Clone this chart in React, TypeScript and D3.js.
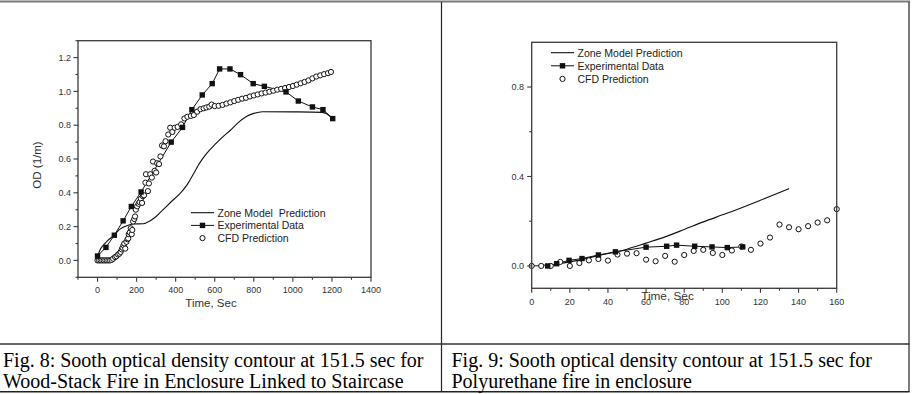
import React from "react";
import * as d3 from "d3";

// ---- Fig. 8 data (wood-stack fire, time in s, OD in 1/m) ----
const woodZone: [number, number][] = [
  [0, 0.02], [12, 0.06], [30, 0.09], [50, 0.115], [85, 0.15], [115, 0.185], [150, 0.205],
  [182, 0.215], [234, 0.217], [270, 0.235], [300, 0.26], [340, 0.305], [380, 0.35],
  [422, 0.395], [460, 0.45], [490, 0.51], [525, 0.58], [560, 0.635], [600, 0.685],
  [640, 0.73], [680, 0.77], [720, 0.815], [760, 0.85], [800, 0.87], [845, 0.88],
  [1000, 0.879], [1150, 0.876], [1175, 0.866], [1204, 0.839],
];

const woodExp: [number, number][] = [
  [0, 0.026], [43, 0.077], [86, 0.149], [131, 0.234], [173, 0.319], [223, 0.405],
  [377, 0.7], [435, 0.787], [483, 0.892], [536, 0.979], [587, 1.046], [625, 1.133],
  [678, 1.133], [732, 1.099], [797, 1.046], [854, 1.03], [965, 0.997], [1028, 0.943],
  [1100, 0.908], [1154, 0.892], [1204, 0.839],
];

const woodCfd: [number, number][] = [
  [0, 0], [8, 0], [16, 0], [24, 0], [32, 0], [40, 0], [48, 0], [56, 0], [64, 0], [72, 0.003],
  [80, 0.01], [90, 0.02], [97, 0.025], [105, 0.035], [112, 0.04], [118, 0.05], [124, 0.065],
  [128, 0.075], [133, 0.09], [137, 0.1], [142, 0.07], [148, 0.11], [153, 0.125], [157, 0.13],
  [160, 0.155], [165, 0.165], [170, 0.19], [175, 0.155], [178, 0.18], [182, 0.23],
  [188, 0.245], [192, 0.26], [196, 0.3], [203, 0.32], [210, 0.335], [215, 0.345],
  [222, 0.365], [228, 0.34], [232, 0.38], [238, 0.385], [245, 0.46], [248, 0.51],
  [258, 0.41], [263, 0.455], [270, 0.51], [278, 0.49], [284, 0.585], [292, 0.53],
  [300, 0.52], [305, 0.575], [315, 0.57], [322, 0.615], [330, 0.68], [340, 0.675],
  [348, 0.705], [362, 0.745], [372, 0.785], [383, 0.76], [395, 0.785], [410, 0.79],
  [428, 0.805], [445, 0.84], [460, 0.85], [478, 0.855], [493, 0.86], [510, 0.88],
  [527, 0.895], [543, 0.9], [557, 0.905], [572, 0.91], [584, 0.922],
  [600, 0.913], [620, 0.915], [640, 0.92], [660, 0.928], [680, 0.935], [700, 0.943],
  [720, 0.95], [740, 0.957], [760, 0.962], [780, 0.97], [800, 0.976], [820, 0.982],
  [840, 0.988], [860, 0.993], [880, 0.998], [900, 1.004], [920, 1.01], [940, 1.015],
  [960, 1.02], [980, 1.026], [1000, 1.032], [1020, 1.04], [1040, 1.048], [1060, 1.056],
  [1080, 1.065], [1100, 1.077], [1120, 1.088], [1140, 1.095], [1160, 1.102],
  [1180, 1.108], [1195, 1.115],
];

// ---- Fig. 9 data (polyurethane fire) ----
const pzZone: [number, number][] = [
  [0, 0], [10, 0.005], [20, 0.018], [35, 0.046], [50, 0.075], [60, 0.102], [70, 0.13],
  [80, 0.163], [90, 0.197], [102, 0.234], [120, 0.294], [135, 0.346],
];

const pzExp: [number, number][] = [
  [8.4, 0], [13.1, 0.01], [19.6, 0.025], [26.4, 0.033], [35, 0.049], [43.9, 0.063],
  [60, 0.084], [70.8, 0.088], [76, 0.093], [85.5, 0.088], [94.6, 0.085], [102.6, 0.082],
  [110.7, 0.085],
];

const pzCfd: [number, number][] = [
  [0, 0], [5, 0], [10, 0], [15, 0.018], [20, 0], [25, 0.013], [30, 0.025], [35, 0.031],
  [40, 0.024], [45, 0.051], [50, 0.055], [55, 0.057], [60, 0.028], [65, 0.021],
  [70, 0.045], [75, 0.019], [80, 0.049], [85, 0.067], [90, 0.072], [95, 0.058],
  [100, 0.049], [105, 0.069], [110, 0.087], [115, 0.072], [120, 0.1], [125, 0.127],
  [130, 0.185], [135, 0.173], [140, 0.164], [145, 0.178], [150, 0.194], [155, 0.204],
  [160, 0.254],
];

// ---- Axis ticks ----
const woodXMajor = [0, 200, 400, 600, 800, 1000, 1200, 1400];
const woodXMinor = [-100, 100, 300, 500, 700, 900, 1100, 1300];
const woodYMajor = [0, 0.2, 0.4, 0.6, 0.8, 1.0, 1.2];
const woodYMinor = [-0.1, 0.1, 0.3, 0.5, 0.7, 0.9, 1.1, 1.3];
const pzXMajor = [0, 20, 40, 60, 80, 100, 120, 140, 160];
const pzXMinor = [10, 30, 50, 70, 90, 110, 130, 150];
const pzYMajor = [0, 0.4, 0.8];
const pzYMinor = [0.2, 0.6];

const legendLabels = ["Zone Model  Prediction", "Experimental Data", "CFD Prediction"];
const legendLabelsR = ["Zone Model Prediction", "Experimental Data", "CFD Prediction"];

const captionLeft = [
  "Fig. 8: Sooth optical density contour at 151.5 sec for",
  "Wood-Stack Fire in Enclosure Linked to Staircase",
];
const captionRight = [
  "Fig. 9: Sooth optical density contour at 151.5 sec for",
  "Polyurethane fire in enclosure",
];

const SANS = "'Liberation Sans', Arial, sans-serif";
const SERIF = "'Liberation Serif', 'Times New Roman', serif";
const AXIS = "#3a3a3a";
const INK = "#111";

type Scale = d3.ScaleLinear<number, number>;

function Panel(props: {
  x: Scale; y: Scale;
  zone: [number, number][]; exp: [number, number][]; cfd: [number, number][];
  xMajor: number[]; xMinor: number[]; yMajor: number[]; yMinor: number[];
  xFmt: (v: number) => string; yFmt: (v: number) => string;
  yLabelX: number; xLabelY: number;
}) {
  const { x, y } = props;
  const [x0, x1] = x.range();
  const [y0, y1] = y.range(); // y0 bottom, y1 top
  const line = d3.line<[number, number]>().x((d) => x(d[0])).y((d) => y(d[1]));
  const zoneLine = d3.line<[number, number]>().x((d) => x(d[0])).y((d) => y(d[1])).curve(d3.curveMonotoneX);
  return (
    <g>
      <path d={zoneLine(props.zone) || ""} fill="none" stroke={INK} strokeWidth={1.1} />
      <path d={line(props.exp) || ""} fill="none" stroke={INK} strokeWidth={1} />
      {props.cfd.map((d, i) => (
        <circle key={"c" + i} cx={x(d[0])} cy={y(d[1])} r={2.6} fill="#fff" stroke={INK} strokeWidth={1} />
      ))}
      {props.exp.map((d, i) => (
        <rect key={"s" + i} x={x(d[0]) - 2.7} y={y(d[1]) - 2.7} width={5.4} height={5.4} fill={INK} />
      ))}
      <rect x={x0} y={y1} width={x1 - x0} height={y0 - y1} fill="none" stroke={AXIS} strokeWidth={1.3} />
      {props.yMajor.map((v) => (
        <g key={"ym" + v}>
          <line x1={x0 - 4.5} x2={x0} y1={y(v)} y2={y(v)} stroke={AXIS} strokeWidth={1.1} />
          <text x={props.yLabelX} y={y(v) + 3.2} textAnchor="end" fontFamily={SANS} fontSize={9} fill="#333">
            {props.yFmt(v)}
          </text>
        </g>
      ))}
      {props.yMinor.map((v) => (
        <line key={"yn" + v} x1={x0 - 2.5} x2={x0} y1={y(v)} y2={y(v)} stroke={AXIS} strokeWidth={1.1} />
      ))}
      {props.xMajor.map((v) => (
        <g key={"xm" + v}>
          <line x1={x(v)} x2={x(v)} y1={y0} y2={y0 + 4.5} stroke={AXIS} strokeWidth={1.1} />
          <text x={x(v)} y={props.xLabelY} textAnchor="middle" fontFamily={SANS} fontSize={9} fill="#333">
            {props.xFmt(v)}
          </text>
        </g>
      ))}
      {props.xMinor.map((v) => (
        <line key={"xn" + v} x1={x(v)} x2={x(v)} y1={y0} y2={y0 + 2.5} stroke={AXIS} strokeWidth={1.1} />
      ))}
    </g>
  );
}

function Legend(props: { x: number; y: number; gap: number; labels: string[] }) {
  const { x, y, gap, labels } = props;
  const lineLen = 23;
  return (
    <g fontFamily={SANS} fontSize={10.5} fill="#222">
      <line x1={x} x2={x + lineLen} y1={y} y2={y} stroke={INK} strokeWidth={1.1} />
      <line x1={x} x2={x + lineLen} y1={y + gap} y2={y + gap} stroke={INK} strokeWidth={1} />
      <rect x={x + lineLen / 2 - 2.7} y={y + gap - 2.7} width={5.4} height={5.4} fill={INK} />
      <circle cx={x + lineLen / 2} cy={y + 2 * gap} r={2.6} fill="#fff" stroke={INK} strokeWidth={1} />
      {labels.map((l, i) => (
        <text key={l} x={x + lineLen + 3.5} y={y + i * gap + 3.8} style={{ whiteSpace: "pre" }}>
          {l}
        </text>
      ))}
    </g>
  );
}

export default function App() {
  const W = 914;
  const H = 394;

  const xL = d3.scaleLinear().domain([-100, 1400]).range([78, 371]);
  const yL = d3.scaleLinear().domain([-0.1, 1.3]).range([277.3, 40.7]);
  const xR = d3.scaleLinear().domain([0, 160]).range([531.7, 836.7]);
  const yR = d3.scaleLinear().domain([-0.1, 1.0]).range([288.3, 42.3]);

  const f1 = d3.format(".1f");
  const f0 = d3.format("d");

  return (
    <svg
      width={W}
      height={H}
      viewBox={`0 0 ${W} ${H}`}
      style={{ position: "absolute", left: 0, top: 0, background: "#fff" }}
    >
      <rect x={0} y={0} width={W} height={H} fill="#fff" />

      {/* table frame */}
      <line x1={0} x2={910} y1={1.5} y2={1.5} stroke="#7a7a7a" strokeWidth={2.2} />
      <line x1={441.5} x2={441.5} y1={2} y2={392} stroke="#222" strokeWidth={1.2} />
      <line x1={909} x2={909} y1={2} y2={392} stroke="#444" strokeWidth={1.4} />
      <line x1={0} x2={909.5} y1={344} y2={344} stroke="#333" strokeWidth={1.4} />
      <line x1={0} x2={909.5} y1={391.8} y2={391.8} stroke="#222" strokeWidth={1.4} />

      {/* Fig. 8 */}
      <Panel
        x={xL} y={yL}
        zone={woodZone} exp={woodExp} cfd={woodCfd}
        xMajor={woodXMajor} xMinor={woodXMinor} yMajor={woodYMajor} yMinor={woodYMinor}
        xFmt={f0} yFmt={f1}
        yLabelX={71} xLabelY={292.6}
      />
      <Legend x={191} y={212.7} gap={12.7} labels={legendLabels} />
      <text x={211} y={306.8} textAnchor="middle" fontFamily={SANS} fontSize={11.5} fill="#333">
        Time, Sec
      </text>
      <text
        transform="translate(41,165) rotate(-90)"
        textAnchor="middle"
        fontFamily={SANS}
        fontSize={11.5}
        fill="#333"
      >
        OD (1/m)
      </text>

      {/* Fig. 9 */}
      <Panel
        x={xR} y={yR}
        zone={pzZone} exp={pzExp} cfd={pzCfd}
        xMajor={pzXMajor} xMinor={pzXMinor} yMajor={pzYMajor} yMinor={pzYMinor}
        xFmt={f0} yFmt={f1}
        yLabelX={524} xLabelY={304.9}
      />
      <Legend x={551} y={52.7} gap={13.1} labels={legendLabelsR} />
      <text x={667.5} y={300} textAnchor="middle" fontFamily={SANS} fontSize={11.8} fill="#333">
        Time, Sec
      </text>

      {/* captions */}
      <g fontFamily={SERIF} fontSize={20} fill="#000">
        {captionLeft.map((c, i) => (
          <text key={c} x={3} y={366.7 + i * 21.7}>{c}</text>
        ))}
        {captionRight.map((c, i) => (
          <text key={c} x={451.5} y={366.7 + i * 21.7}>{c}</text>
        ))}
      </g>
    </svg>
  );
}
